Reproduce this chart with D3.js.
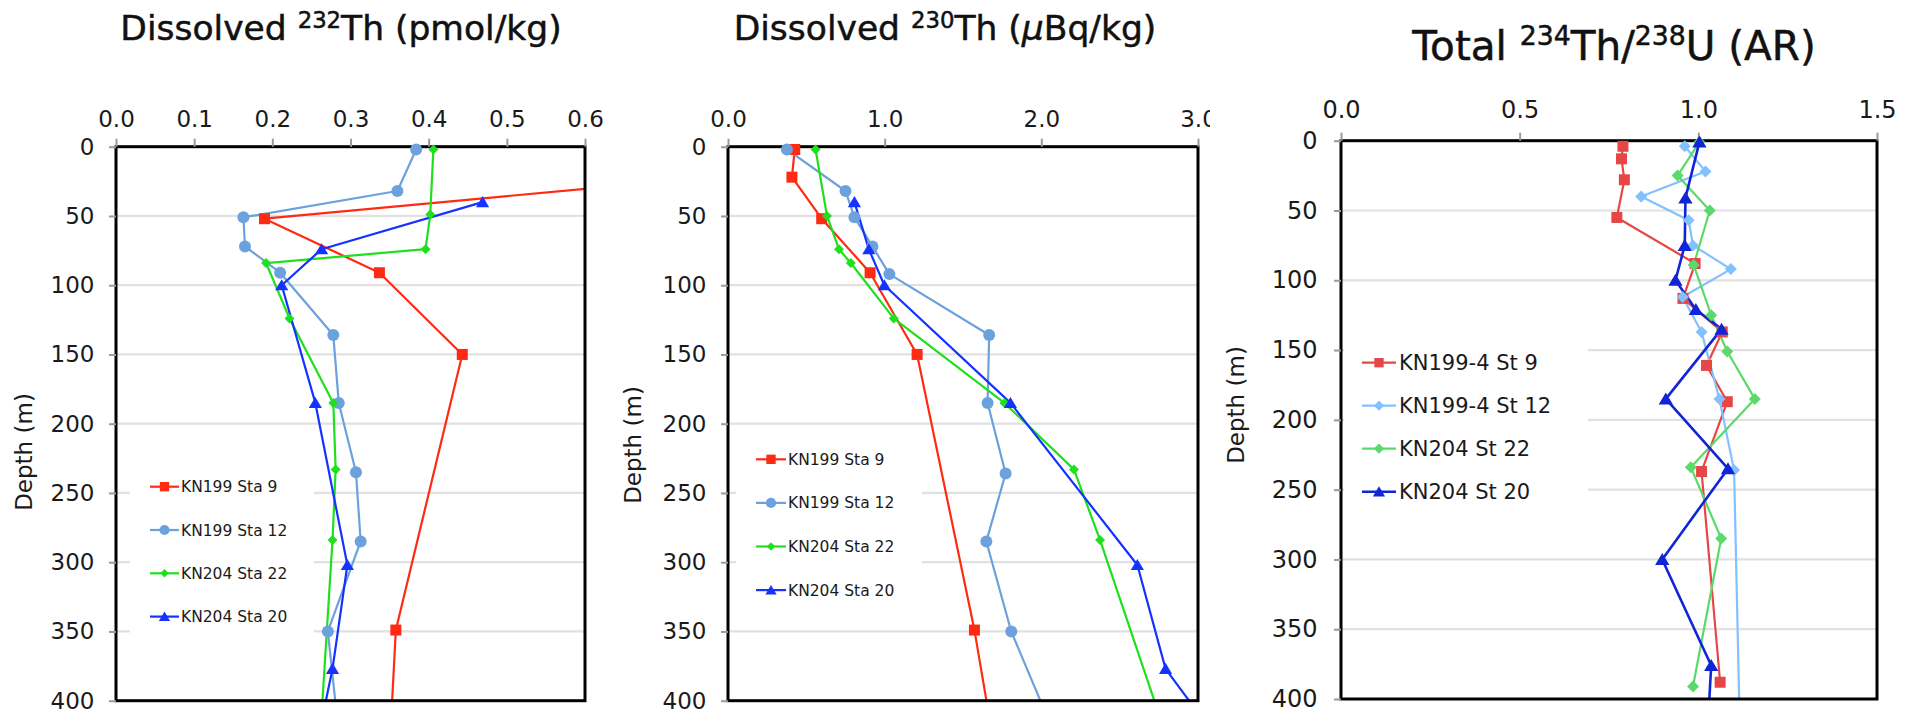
<!DOCTYPE html>
<html><head><meta charset="utf-8">
<script src="https://cdn.jsdelivr.net/npm/d3@7"></script>
<style>body{margin:0;background:#fff}svg{display:block}</style>
</head><body>
<svg id="c" width="1919" height="713"></svg>
<script>
// ---------------- data ----------------
const depthTicks = [0, 50, 100, 150, 200, 250, 300, 350, 400];
const th232Ticks = [0, 0.1, 0.2, 0.3, 0.4, 0.5, 0.6];
const th230Ticks = [0, 1, 2, 3];
const arTicks = [0, 0.5, 1.0, 1.5];

const namesA = ["KN199 Sta 9", "KN199 Sta 12", "KN204 Sta 22", "KN204 Sta 20"];
const namesB = ["KN199-4 St 9", "KN199-4 St 12", "KN204 St 22", "KN204 St 20"];

// Panel 1: dissolved 232Th (pmol/kg)
const th232Sta9Depth  = [22, 52, 91, 150, 349, 500];
const th232Sta9       = [0.76, 0.190, 0.337, 0.443, 0.358, 0.344];
const th232Sta12Depth = [2, 32, 51, 72, 91, 136, 185, 235, 285, 350, 450];
const th232Sta12      = [0.384, 0.360, 0.163, 0.165, 0.210, 0.278, 0.285, 0.307, 0.313, 0.271, 0.290];
const th232Sta22Depth = [2, 49, 74, 84, 124, 185, 233, 284, 500];
const th232Sta22      = [0.406, 0.402, 0.396, 0.192, 0.222, 0.278, 0.281, 0.277, 0.253];
const th232Sta20Depth = [40, 74, 100, 185, 302, 377, 450];
const th232Sta20      = [0.469, 0.263, 0.212, 0.255, 0.296, 0.277, 0.250];

// Panel 2: dissolved 230Th (uBq/kg)
const th230Sta9Depth  = [2, 22, 52, 91, 150, 349, 500];
const th230Sta9       = [0.426, 0.408, 0.598, 0.907, 1.207, 1.573, 1.80];
const th230Sta12Depth = [2, 32, 51, 72, 92, 136, 185, 236, 285, 350, 450];
const th230Sta12      = [0.376, 0.750, 0.807, 0.922, 1.03, 1.667, 1.657, 1.772, 1.649, 1.808, 2.18];
const th230Sta22Depth = [2, 50, 74, 84, 124, 185, 233, 284, 500];
const th230Sta22      = [0.559, 0.632, 0.708, 0.784, 1.058, 1.764, 2.208, 2.375, 3.02];
const th230Sta20Depth = [40, 74, 100, 185, 302, 377, 450];
const th230Sta20      = [0.807, 0.899, 0.998, 1.803, 2.613, 2.793, 3.27];

// Panel 3: total 234Th/238U activity ratio
const arSt9Depth  = [4, 13, 28, 55, 88, 113, 137, 161, 187, 237, 388];
const arSt9       = [0.789, 0.785, 0.793, 0.772, 0.991, 0.957, 1.067, 1.023, 1.081, 1.009, 1.061];
const arSt12Depth = [4, 22, 40, 57, 75, 92, 112, 137, 185, 236, 500];
const arSt12      = [0.962, 1.020, 0.840, 0.973, 0.985, 1.091, 0.956, 1.009, 1.059, 1.100, 1.123];
const arSt22Depth = [1, 25, 50, 89, 125, 151, 185, 234, 285, 391];
const arSt22      = [1.003, 0.942, 1.032, 0.987, 1.036, 1.081, 1.158, 0.979, 1.064, 0.985];
const arSt20Depth = [1, 41, 75, 100, 121, 135, 185, 235, 300, 376, 450];
const arSt20      = [1.003, 0.964, 0.962, 0.936, 0.993, 1.065, 0.909, 1.083, 0.899, 1.036, 1.020];

// ---------------- drawing ----------------
const svg = d3.select('#c');
const FONT = "'DejaVu Sans', Verdana, sans-serif";

function zip(depths, vals){ return depths.map((d,i)=>({d, v: vals[i]})); }

function shapePath(kind, s){
  if(kind==='square') return `M${-s},${-s}H${s}V${s}H${-s}Z`;
  if(kind==='diamond') return `M0,${-s}L${s},0L0,${s}L${-s},0Z`;
  if(kind==='triangle') return `M0,${-s*1.0}L${s*1.1},${s*0.85}L${-s*1.1},${s*0.85}Z`;
  if(kind==='circle') return d3.symbol(d3.symbolCircle, Math.PI*s*s)();
}

let clipId = 0;
function panel(cfg){
  const x = d3.scaleLinear().domain(cfg.xDomain).range([cfg.left, cfg.right]);
  const y = d3.scaleLinear().domain([0, 400]).range([cfg.top, cfg.bottom]);
  const g = svg.append('g');

  // grid
  g.append('g').selectAll('line').data(depthTicks.filter(d=>d>0 && d<400)).join('line')
    .attr('x1', cfg.left).attr('x2', cfg.right)
    .attr('y1', d=>y(d)).attr('y2', d=>y(d))
    .attr('stroke', '#e1e1e1').attr('stroke-width', 2.2);

  // legend background (hides gridlines)
  const lg = cfg.legend;
  g.append('rect').attr('x', lg.bx).attr('y', lg.by).attr('width', lg.bw).attr('height', lg.bh)
    .attr('fill', '#fff');

  // clip for lines
  const cid = 'clip' + (clipId++);
  svg.append('clipPath').attr('id', cid).append('rect')
    .attr('x', cfg.left).attr('y', cfg.top)
    .attr('width', cfg.right - cfg.left).attr('height', cfg.bottom - cfg.top);

  const line = d3.line().x(p=>x(p.v)).y(p=>y(p.d));
  const lines = g.append('g').attr('clip-path', `url(#${cid})`);
  cfg.series.forEach(s=>{
    lines.append('path').datum(s.pts).attr('d', line)
      .attr('fill', 'none').attr('stroke', s.color).attr('stroke-width', s.lw || 2.2)
      .attr('stroke-linejoin', 'round');
  });

  // frame
  g.append('rect').attr('x', cfg.left).attr('y', cfg.top)
    .attr('width', cfg.right - cfg.left).attr('height', cfg.bottom - cfg.top)
    .attr('fill', 'none').attr('stroke', '#000').attr('stroke-width', 3);

  // x axis on top
  const xa = g.append('g').attr('transform', `translate(0,${cfg.top})`)
    .call(d3.axisTop(x).tickValues(cfg.xTicks).tickFormat(d3.format('.1f'))
      .tickSize(8).tickPadding(cfg.xPad));
  if(cfg.xClip){
    const cid2 = 'clip' + (clipId++);
    svg.append('clipPath').attr('id', cid2).append('rect')
      .attr('x', 0).attr('y', -200).attr('width', cfg.xClip).attr('height', 400);
    xa.attr('clip-path', `url(#${cid2})`);
  }
  // y axis on left
  const ya = g.append('g').attr('transform', `translate(${cfg.left},0)`)
    .call(d3.axisLeft(y).tickValues(depthTicks).tickFormat(d3.format('d'))
      .tickSize(7).tickPadding(cfg.yPad));
  [xa, ya].forEach(a=>{
    a.select('.domain').remove();
    a.selectAll('.tick line').attr('stroke', '#9a9a9a').attr('stroke-width', 2);
    a.selectAll('.tick text').attr('font-family', FONT).attr('font-size', cfg.tickFont)
      .attr('fill', '#1a1a1a');
  });

  // markers
  cfg.series.forEach(s=>{
    g.append('g').selectAll('path')
      .data(s.pts.filter(p=>p.d <= 400 && p.v <= cfg.xDomain[1]))
      .join('path')
      .attr('transform', p=>`translate(${x(p.v)},${y(p.d)})`)
      .attr('d', shapePath(s.shape, s.size))
      .attr('fill', s.color);
  });

  // legend
  cfg.series.forEach((s,i)=>{
    const ly = lg.y0 + i*lg.dy;
    g.append('line').attr('x1', lg.x0).attr('x2', lg.x1).attr('y1', ly).attr('y2', ly)
      .attr('stroke', s.color).attr('stroke-width', s.lw || 2.2);
    g.append('path').attr('transform', `translate(${(lg.x0+lg.x1)/2},${ly})`)
      .attr('d', shapePath(s.shape, s.size*0.85)).attr('fill', s.color);
    g.append('text').attr('x', lg.tx).attr('y', ly).attr('dy', '0.36em')
      .attr('font-family', FONT).attr('font-size', lg.font).attr('fill', '#1a1a1a')
      .text(s.name);
  });

  // depth label
  g.append('text').attr('transform', `translate(${cfg.dLabX},${cfg.dLabY}) rotate(-90)`)
    .attr('text-anchor', 'middle').attr('font-family', FONT).attr('font-size', cfg.dLabFont)
    .attr('fill', '#1a1a1a').text('Depth (m)');

  // title
  const t = g.append('text').attr('x', cfg.titleX).attr('y', cfg.titleY)
    .attr('text-anchor', 'middle').attr('font-family', FONT)
    .attr('font-size', cfg.titleFont).attr('fill', '#111')
    .attr('stroke', '#111').attr('stroke-width', 0.5);
  let raised = false;
  cfg.title.forEach(part=>{
    const sp = t.append('tspan').text(part.t);
    if(part.sup){
      sp.attr('font-size', cfg.titleFont*0.66).attr('dy', raised ? 0 : -cfg.titleFont*0.36);
      raised = true;
    } else {
      if(raised){ sp.attr('dy', cfg.titleFont*0.36); raised = false; }
      if(part.it) sp.attr('font-style', 'italic');
    }
  });
}

const colA = ['#ff2a14', '#6ba1dc', '#1fe01f', '#1433ff'];
const colB = ['#e64646', '#82c1ff', '#5cd96b', '#0f25d6'];

panel({
  xDomain: [0, 0.6], xTicks: th232Ticks, left: 116, right: 585, top: 146.7, bottom: 700.7,
  xPad: 11.5, yPad: 14.5, tickFont: 23,
  series: [
    {name: namesA[0], pts: zip(th232Sta9Depth, th232Sta9), color: colA[0], shape: 'square', size: 5.5},
    {name: namesA[1], pts: zip(th232Sta12Depth, th232Sta12), color: colA[1], shape: 'circle', size: 6},
    {name: namesA[2], pts: zip(th232Sta22Depth, th232Sta22), color: colA[2], shape: 'diamond', size: 5},
    {name: namesA[3], pts: zip(th232Sta20Depth, th232Sta20), color: colA[3], shape: 'triangle', size: 6},
  ],
  legend: {bx: 130, by: 462, bw: 184, bh: 180, y0: 486.7, dy: 43.3, x0: 150, x1: 179, tx: 181, font: 15.5},
  dLabX: 32, dLabY: 452, dLabFont: 23,
  titleX: 341, titleY: 40, titleFont: 34.5,
  title: [{t: 'Dissolved '}, {t: '232', sup: true}, {t: 'Th (pmol/kg)'}]
});

panel({
  xDomain: [0, 3], xTicks: th230Ticks, left: 728, right: 1198, top: 146.7, bottom: 700.7,
  xPad: 11.5, yPad: 14.5, tickFont: 23, xClip: 1210,
  series: [
    {name: namesA[0], pts: zip(th230Sta9Depth, th230Sta9), color: colA[0], shape: 'square', size: 5.5},
    {name: namesA[1], pts: zip(th230Sta12Depth, th230Sta12), color: colA[1], shape: 'circle', size: 6},
    {name: namesA[2], pts: zip(th230Sta22Depth, th230Sta22), color: colA[2], shape: 'diamond', size: 5},
    {name: namesA[3], pts: zip(th230Sta20Depth, th230Sta20), color: colA[3], shape: 'triangle', size: 6},
  ],
  legend: {bx: 736, by: 437, bw: 186, bh: 176, y0: 459.3, dy: 43.6, x0: 756, x1: 786, tx: 788, font: 15.5},
  dLabX: 641, dLabY: 445, dLabFont: 23,
  titleX: 945, titleY: 40, titleFont: 34.5,
  title: [{t: 'Dissolved '}, {t: '230', sup: true}, {t: 'Th ('}, {t: 'μ', it: true}, {t: 'Bq/kg)'}]
});

panel({
  xDomain: [0, 1.5], xTicks: arTicks, left: 1341, right: 1877, top: 140.7, bottom: 699,
  xPad: 14.5, yPad: 16.5, tickFont: 24,
  series: [
    {name: namesB[0], pts: zip(arSt9Depth, arSt9), color: colB[0], shape: 'square', size: 5.5},
    {name: namesB[1], pts: zip(arSt12Depth, arSt12), color: colB[1], shape: 'diamond', size: 6},
    {name: namesB[2], pts: zip(arSt22Depth, arSt22), color: colB[2], shape: 'diamond', size: 6},
    {name: namesB[3], pts: zip(arSt20Depth, arSt20), color: colB[3], shape: 'triangle', size: 6.5, lw: 2.6},
  ],
  legend: {bx: 1344, by: 340, bw: 244, bh: 175, y0: 362.7, dy: 43, x0: 1362, x1: 1396, tx: 1399, font: 21},
  dLabX: 1244, dLabY: 405, dLabFont: 23,
  titleX: 1614, titleY: 60, titleFont: 40.5,
  title: [{t: 'Total '}, {t: '234', sup: true}, {t: 'Th/'}, {t: '238', sup: true}, {t: 'U (AR)'}]
});
</script>
</body></html>
